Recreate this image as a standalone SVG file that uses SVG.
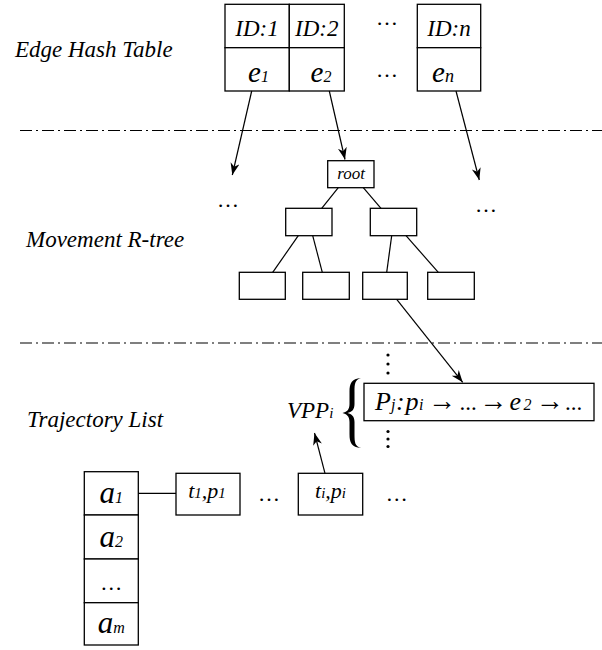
<svg xmlns="http://www.w3.org/2000/svg" width="602" height="650" viewBox="0 0 602 650">
<style>
.t{font-family:"Liberation Serif","Times New Roman",serif;font-style:italic;fill:#000}
.r{font-family:"Liberation Serif","Times New Roman",serif;fill:#000}
.box{fill:#fff;stroke:#000;stroke-width:1.3}
.ln{stroke:#000;stroke-width:1.2;fill:none}
.sep{stroke:#000;stroke-width:1.2;stroke-dasharray:12 4 2 4;fill:none}
</style>
<defs>
<marker id="ah" markerUnits="userSpaceOnUse" markerWidth="14" markerHeight="11" refX="12" refY="4.5" orient="auto">
<path d="M0,0 L12,4.5 L0,9 L3.5,4.5 Z" fill="#000"/>
</marker>
</defs>

<g id="labels">
<text class="t" x="15" y="57" font-size="23">Edge Hash Table</text>
<text class="t" x="26" y="247" font-size="23">Movement R-tree</text>
<text class="t" x="27" y="427" font-size="23">Trajectory List</text>
</g>

<g id="separators">
<line class="sep" x1="20" y1="130.5" x2="602" y2="130.5"/>
<line class="sep" x1="20" y1="343" x2="602" y2="343"/>
</g>

<g id="hash1">
<rect class="box" x="225" y="4.3" width="64.3" height="43.4"/>
<rect class="box" x="225" y="47.7" width="64.3" height="43.3"/>
<text class="t" x="257" y="36" font-size="23" text-anchor="middle">ID:1</text>
<text class="t" x="258.5" y="82" font-size="29" text-anchor="middle">e<tspan font-size="16">1</tspan></text>
</g>
<g id="hash2">
<rect class="box" x="289.3" y="4.3" width="55" height="43.4"/>
<rect class="box" x="289.3" y="47.7" width="55" height="43.3"/>
<text class="t" x="316.8" y="36" font-size="23" text-anchor="middle">ID:2</text>
<text class="t" x="321" y="82" font-size="29" text-anchor="middle">e<tspan font-size="16">2</tspan></text>
</g>
<g id="hashdots">
<text class="r" x="387" y="25" font-size="22" text-anchor="middle">…</text>
<text class="r" x="387" y="77" font-size="22" text-anchor="middle">…</text>
</g>
<g id="hashn">
<rect class="box" x="417.3" y="4.3" width="63.4" height="43.4"/>
<rect class="box" x="417.3" y="47.7" width="63.4" height="43.3"/>
<text class="t" x="449" y="36" font-size="23" text-anchor="middle">ID:n</text>
<text class="t" x="443" y="82" font-size="29" text-anchor="middle">e<tspan font-size="18">n</tspan></text>
</g>

<g id="treedots">
<text class="r" x="228" y="207" font-size="22" text-anchor="middle">…</text>
<text class="r" x="486" y="212" font-size="22" text-anchor="middle">…</text>
</g>

<g id="root">
<rect class="box" x="327.7" y="160.7" width="46.3" height="27"/>
<text class="t" x="351" y="179" font-size="17" text-anchor="middle">root</text>
</g>
<g id="n21"><rect class="box" x="285.7" y="208.3" width="46.3" height="27.4"/></g>
<g id="n22"><rect class="box" x="370.3" y="208.3" width="46.4" height="27.4"/></g>
<g id="n31"><rect class="box" x="239.3" y="272.3" width="46" height="27"/></g>
<g id="n32"><rect class="box" x="302.7" y="272.3" width="46.6" height="27"/></g>
<g id="n33"><rect class="box" x="362.7" y="272.3" width="44.6" height="27"/></g>
<g id="n34"><rect class="box" x="427.7" y="272.3" width="46.6" height="27"/></g>

<g id="vpp">
<text class="t" x="287" y="418" font-size="23">VPP<tspan font-size="15">i</tspan></text>
<path d="M361,378 C351.5,379 349.5,383 349.5,392 L349.5,404 C349.5,410 346.5,412 342.5,413 C346.5,414 349.5,416 349.5,422 L349.5,434 C349.5,443 351.5,447 361,448 C355,446 354.5,443 354.5,434 L354.5,422 C354.5,416 351.5,414 347.5,413 C351.5,412 354.5,410 354.5,404 L354.5,392 C354.5,383 355,380 361,378 Z" fill="#000"/>
</g>
<g id="vdots">
<circle cx="388" cy="355" r="1.6"/>
<circle cx="388" cy="364" r="1.6"/>
<circle cx="388" cy="373" r="1.6"/>
<circle cx="388" cy="431.5" r="1.6"/>
<circle cx="388" cy="439" r="1.6"/>
<circle cx="388" cy="446.5" r="1.6"/>
</g>
<g id="path">
<rect class="box" x="364" y="383.3" width="230" height="37.4"/>
<text class="t" y="410" font-size="26"><tspan x="375">P</tspan><tspan x="391" font-size="16">j</tspan><tspan x="396">:</tspan><tspan x="405.5">p</tspan><tspan x="419" font-size="16">i</tspan><tspan x="428" class="r" font-style="normal" font-size="28">→</tspan><tspan x="459.5" font-style="normal" font-size="23">...</tspan><tspan x="479.2" font-style="normal" font-size="28">→</tspan><tspan x="509.5">e</tspan><tspan x="523.5" font-size="16">2</tspan><tspan x="535.8" font-style="normal" font-size="28">→</tspan><tspan x="565" font-style="normal" font-size="23">...</tspan></text>
</g>

<g id="alist">
<rect class="box" x="84.3" y="471.7" width="54" height="43.3"/>
<rect class="box" x="84.3" y="515" width="54" height="44"/>
<rect class="box" x="84.3" y="559" width="54" height="43.7"/>
<rect class="box" x="84.3" y="602.7" width="54" height="42.3"/>
<text class="t" x="111.3" y="503.3" font-size="31" text-anchor="middle">a<tspan font-size="16">1</tspan></text>
<text class="t" x="111.3" y="546.7" font-size="31" text-anchor="middle">a<tspan font-size="16">2</tspan></text>
<text class="r" x="111.3" y="590" font-size="22" text-anchor="middle">…</text>
<text class="t" x="111.3" y="633" font-size="31" text-anchor="middle">a<tspan font-size="16">m</tspan></text>
</g>
<g id="tp1">
<rect class="box" x="176" y="473.3" width="64" height="41.7"/>
<text class="t" x="207" y="497.5" font-size="22" text-anchor="middle">t<tspan font-size="15">1</tspan>,p<tspan font-size="15">1</tspan></text>
</g>
<g id="tpdots">
<text class="r" x="269" y="501" font-size="22" text-anchor="middle">…</text>
<text class="r" x="396.7" y="501" font-size="22" text-anchor="middle">…</text>
</g>
<g id="tpi">
<rect class="box" x="298.3" y="473.3" width="64.4" height="41.7"/>
<text class="t" x="330.5" y="497.5" font-size="22" text-anchor="middle">t<tspan font-size="15">i</tspan>,p<tspan font-size="15">i</tspan></text>
</g>

<g id="connectors">
<line class="ln" x1="251.7" y1="91" x2="232.3" y2="175" marker-end="url(#ah)"/>
<line class="ln" x1="329.3" y1="91" x2="345" y2="159.5" marker-end="url(#ah)"/>
<line class="ln" x1="456" y1="91" x2="479.3" y2="180" marker-end="url(#ah)"/>
<line class="ln" x1="338.3" y1="187.7" x2="321.7" y2="208.3"/>
<line class="ln" x1="363.3" y1="187.7" x2="381" y2="208.3"/>
<line class="ln" x1="298.3" y1="235.7" x2="272.7" y2="272.3"/>
<line class="ln" x1="312.7" y1="235.7" x2="322.3" y2="272.3"/>
<line class="ln" x1="391.7" y1="235.7" x2="386.7" y2="272.3"/>
<line class="ln" x1="406" y1="235.7" x2="438.3" y2="272.3"/>
<line class="ln" x1="396.7" y1="299.3" x2="462.7" y2="382.3" marker-end="url(#ah)"/>
<line class="ln" x1="325" y1="473.3" x2="314.5" y2="433" marker-end="url(#ah)"/>
<line class="ln" x1="138.3" y1="493.3" x2="176" y2="493.3"/>
</g>
</svg>
